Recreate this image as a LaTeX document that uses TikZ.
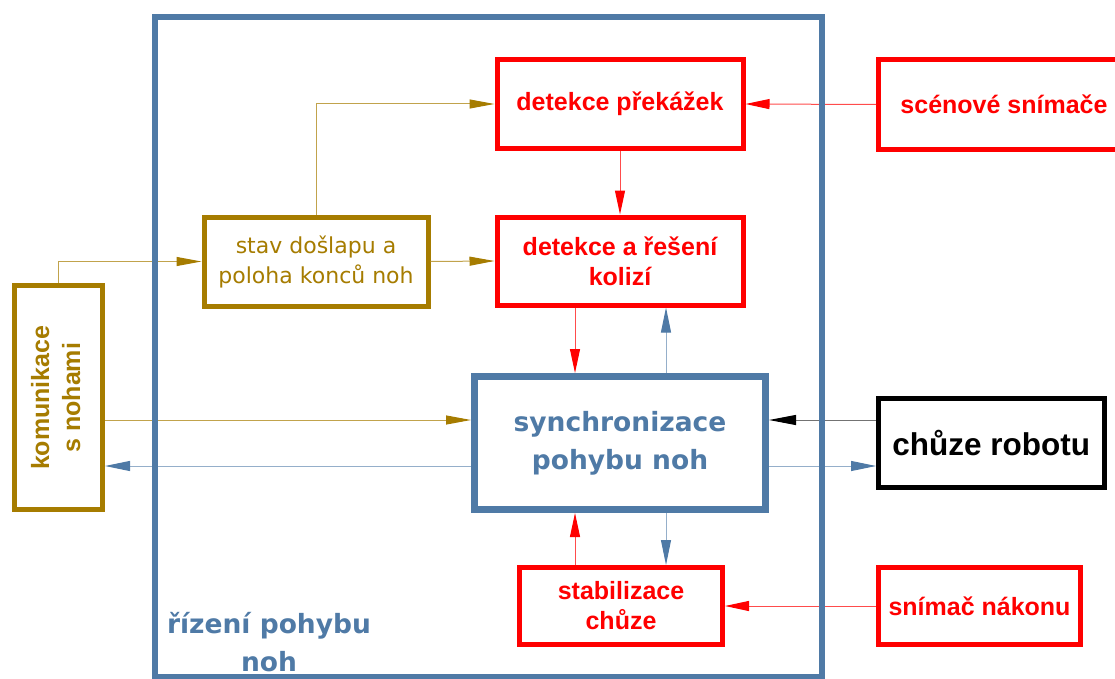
\documentclass[tikz,border=0pt]{standalone}
\usepackage{fontspec}
\setmainfont{DejaVu Sans}
\newfontfamily\blockfont{Liberation Sans}
\usetikzlibrary{arrows.meta}
\definecolor{kolive}{RGB}{166,124,0}
\definecolor{ksteel}{RGB}{79,122,166}
\definecolor{kred}{RGB}{255,0,0}
\begin{document}
\begin{tikzpicture}[x=1pt,y=-1pt,
  box/.style={draw, fill=white, line width=5pt, inner sep=0pt, align=center},
  redbox/.style={box, draw=kred, text=kred, font=\blockfont\bfseries\fontsize{25}{30}\selectfont},
  olivebox/.style={box, draw=kolive, text=kolive, font=\fontsize{22}{30}\selectfont},
  syncbox/.style={box, draw=ksteel, text=ksteel, line width=7pt, font=\bfseries\fontsize{26.5}{38}\selectfont},
  blackbox/.style={box, draw=black, text=black, font=\blockfont\bfseries\fontsize{31.5}{36}\selectfont},
  con/.style={line width=1pt},
  ocon/.style={con, draw=kolive!70, -{Triangle[length=25pt,width=9pt,color=kolive]}},
  rcon/.style={con, draw=kred!70, -{Triangle[length=24pt,width=10pt,color=kred]}},
  bcon/.style={con, draw=ksteel!60, -{Triangle[length=25pt,width=10pt,color=ksteel]}},
  kcon/.style={con, draw=black!55, -{Triangle[length=27pt,width=10pt,color=black]}},
]
\useasboundingbox (0,0) rectangle (1115,679);
\clip (0,0) rectangle (1115,679);

% blocks
\node[redbox, minimum width=246, minimum height=89] (prek) at (620,104) {detekce překážek};
\node[redbox, minimum width=251, minimum height=89.5] (scen) at (1004,104.5) {scénové snímače};
\node[redbox, minimum width=246, minimum height=88] (kol) at (620,261) {detekce a řešení\\kolizí};
\node[olivebox, minimum width=224, minimum height=89] (stav) at (316,261.5) {stav došlapu a\\poloha konců noh};
\node[box, draw=kolive, text=kolive, minimum width=88, minimum height=224.5,
      font=\blockfont\bfseries\fontsize{25}{31}\selectfont] (kom) at (58.5,397.7)
      {\rotatebox{90}{\begin{tabular}{@{}c@{}}komunikace\\s nohami\end{tabular}}};
\node[syncbox, minimum width=291, minimum height=133] (sync) at (620,443) {synchronizace\\pohybu noh};
\node[blackbox, minimum width=225.5, minimum height=89] (robot) at (991.3,443) {chůze robotu};
\node[redbox, minimum width=203, minimum height=77] (stab) at (621,606) {stabilizace\\chůze};
\node[redbox, minimum width=202, minimum height=77] (snim) at (979.5,606) {snímač nákonu};

% lanes for the parallel connectors
\coordinate (xa) at (575,0);
\coordinate (xb) at (666,0);
\coordinate (ya) at (0,420);
\coordinate (yb) at (0,466);

% connectors
\draw[ocon] (kom.north) |- (stav.west);
\draw[ocon] (stav.north) |- (prek.west);
\draw[ocon] (stav.east) -- (kol.west);
\draw[rcon] (scen.west) -- (prek.east);
\draw[rcon] (prek.south) -- (kol.north);
\draw[rcon] (kol.south -| xa) -- (sync.north -| xa);
\draw[bcon] (sync.north -| xb) -- (kol.south -| xb);
\draw[rcon] (stab.north -| xa) -- (sync.south -| xa);
\draw[bcon] (sync.south -| xb) -- (stab.north -| xb);
\draw[ocon] (kom.east |- ya) -- (sync.west |- ya);
\draw[bcon] (sync.west |- yb) -- (kom.east |- yb);
\draw[kcon] (robot.west |- ya) -- (sync.east |- ya);
\draw[bcon] (sync.east |- yb) -- (robot.west |- yb);
\draw[rcon] (snim.west) -- (stab.east);

% enclosing frame of the leg motion control
\node[draw=ksteel, line width=6pt, inner sep=0pt, minimum width=667, minimum height=660] (frame) at (488.5,347) {};
\node[text=ksteel, align=center, font=\bfseries\fontsize{26.5}{38}\selectfont] (lbl) at (269,642) {řízení pohybu\\noh};
\end{tikzpicture}
\end{document}
